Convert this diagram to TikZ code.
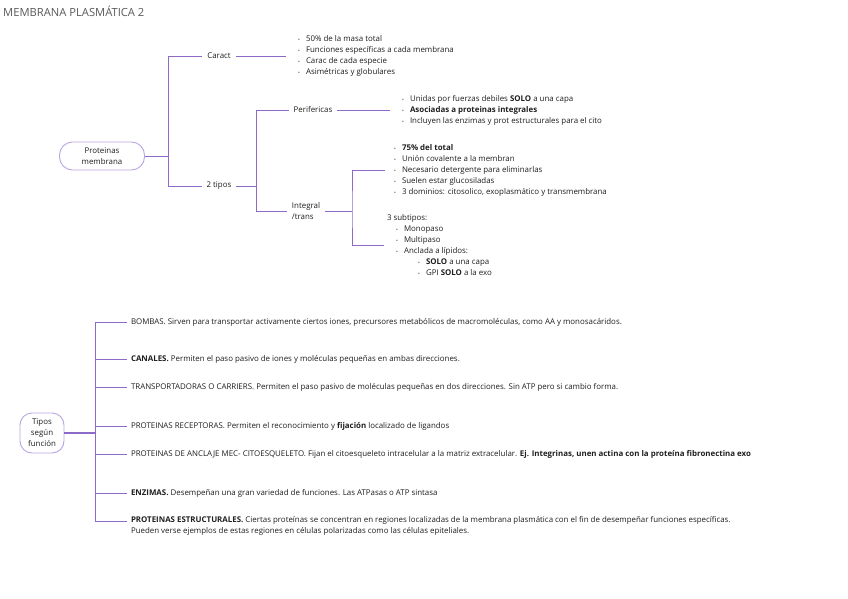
\documentclass[tikz,border=0pt]{standalone}
\usepackage{fontspec}
\setmainfont{Open Sans}
\usetikzlibrary{positioning, calc}
\definecolor{mpline}{HTML}{8C6BC8}
\definecolor{mpedge}{HTML}{B8A3E3}
\definecolor{mptext}{HTML}{1E1E1E}
\newcommand{\bul}{\makebox[8pt][l]{\scalebox{0.6}{•}}}

\begin{document}
\begin{tikzpicture}[
      x=1pt, y=-1pt,
      every node/.style={font=\fontsize{7.9}{11}\selectfont, text=mptext},
      topic/.style={draw=mpedge, line width=0.9pt, rounded corners=13pt, align=center, inner sep=2pt},
      lbl/.style={inner sep=0pt, outer sep=5pt},
      list/.style={align=left, anchor=west, inner sep=0pt, outer sep=0pt},
      link/.style={draw=mpline, line width=0.7pt},
    ]
    \useasboundingbox (0,0) rectangle (848,599);

    \node[anchor=west, inner sep=0pt, font=\fontsize{11.2}{13}\selectfont, text=black!65] (title) at (3,11) {MEMBRANA PLASMÁTICA 2};

    % Proteinas membrana
    \node[topic, minimum width=85pt, minimum height=28pt] (pm) at (102,156) {Proteinas\\membrana};
    \coordinate (j1) at (168,156);

    \node[lbl] (caract) at (219,56) {Caract};
    \node[list] (caractl) at (298,56) {\bul 50\% de la masa total\\\bul Funciones específicas a cada membrana\\\bul Carac de cada especie\\\bul Asimétricas y globulares};

    \node[lbl] (dos) at (219,186) {2 tipos};
    \coordinate (j2) at (256,186);

    \node[lbl] (perif) at (313,110) {Perifericas};
    \node[list] (perifl) at (402,110) {\bul Unidas por fuerzas debiles \textbf{SOLO} a una capa\\\bul \textbf{Asociadas a proteinas integrales}\\\bul Incluyen las enzimas y prot estructurales para el cito};

    \node[lbl, align=left] (integ) at (306,211) {Integral\\/trans};
    \coordinate (j3) at (352,211);
    \node[list] (integl) at (394,170) {\bul \textbf{75\% del total}\\\bul Unión covalente a la membran\\\bul Necesario detergente para eliminarlas\\\bul Suelen estar glucosiladas\\\bul 3 dominios: citosolico, exoplasmático y transmembrana};
    \node[list] (subl) at (387,245) {3 subtipos:\\\hspace*{9pt}\bul Monopaso\\\hspace*{9pt}\bul Multipaso\\\hspace*{9pt}\bul Anclada a lípidos:\\\hspace*{31pt}\bul \textbf{SOLO} a una capa\\\hspace*{31pt}\bul GPI \textbf{SOLO} a la exo};

    \draw[link] (pm.east) -- (j1) |- (caract.west);
    \draw[link] (j1) |- (dos.west);
    \draw[link] (caract.east) -- ($(caractl.west)+(-12,0)$);
    \draw[link] (dos.east) -- (j2);
    \draw[link] (j2) |- (perif.west);
    \draw[link] (j2) |- (integ.west);
    \draw[link] (perif.east) -- ($(perifl.west)+(-12,0)$);
    \draw[link] (integ.east) -- (j3);
    \draw[link] ($(integl.west)+(-9,0)$) -| (j3) |- ($(subl.west)+(-3,0)$);

    % Tipos segun funcion
    \node[topic, minimum width=44pt, minimum height=40pt, rounded corners=12pt] (tsf) at (42,433) {Tipos\\según\\función};
    \coordinate (j4) at (95,433);

    \node[list] (f1) at (131,322) {BOMBAS. Sirven para transportar activamente ciertos iones, precursores metabólicos de macromoléculas, como AA y monosacáridos.};
    \node[list] (f2) at (131,359) {\textbf{CANALES.} Permiten el paso pasivo de iones y moléculas pequeñas en ambas direcciones.};
    \node[list] (f3) at (131,387) {TRANSPORTADORAS O CARRIERS. Permiten el paso pasivo de moléculas pequeñas en dos direcciones. Sin ATP pero si cambio forma.};
    \node[list] (f4) at (131,426) {PROTEINAS RECEPTORAS. Permiten el reconocimiento y \textbf{fijación} localizado de ligandos};
    \node[list] (f5) at (131,454) {PROTEINAS DE ANCLAJE MEC- CITOESQUELETO. Fijan el citoesqueleto intracelular a la matriz extracelular. \textbf{Ej. Integrinas, unen actina con la proteína fibronectina exo}};
    \node[list] (f6) at (131,493) {\textbf{ENZIMAS.} Desempeñan una gran variedad de funciones. Las ATPasas o ATP sintasa};
    \node[list, anchor=north west] (f7) at (131,516) {\textbf{PROTEINAS ESTRUCTURALES.} Ciertas proteínas se concentran en regiones localizadas de la membrana plasmática con el fin de desempeñar funciones específicas.\\Pueden verse ejemplos de estas regiones en células polarizadas como las células epiteliales.};
    \coordinate (f7l) at (131,521);

    \draw[link, line width=1.2pt] (tsf.east) -- (j4);
    \foreach \f in {f1,f2,f3,f4,f5,f6}
      \draw[link] (j4) |- ($(\f.west)+(-4,0)$);
    \draw[link] (j4) |- ($(f7l)+(-4,0)$);
  \end{tikzpicture}
\end{document}
